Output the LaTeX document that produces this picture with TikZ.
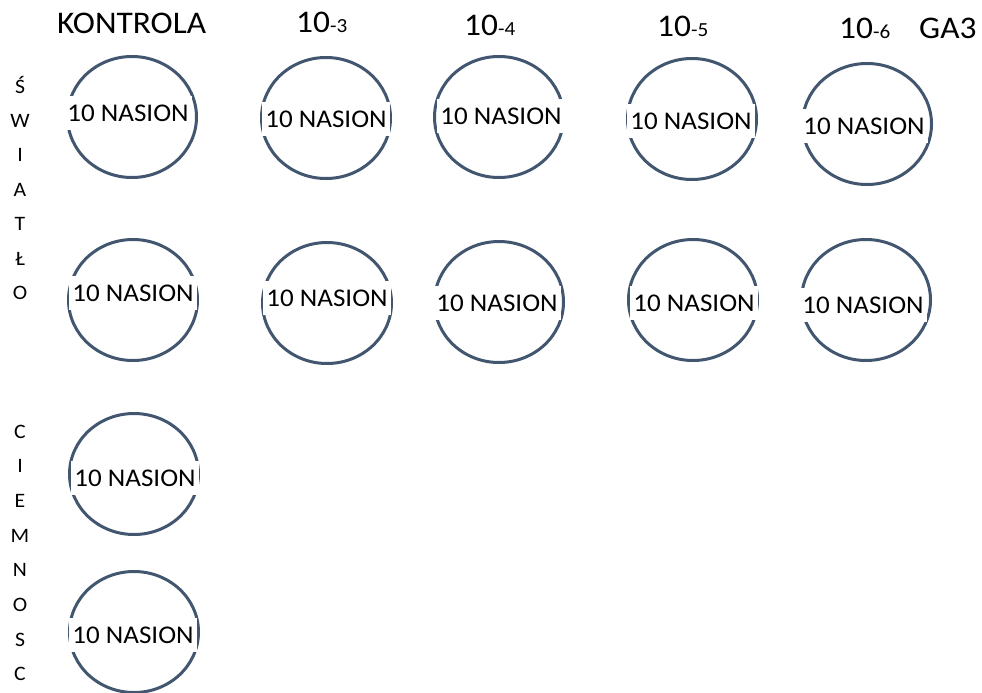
\documentclass[tikz,border=0pt]{standalone}
\usepackage{fontspec}
\setmainfont[FakeStretch=1.06]{Carlito}
\usetikzlibrary{shapes.geometric}
\definecolor{ringblue}{RGB}{66,86,112}
\tikzset{
  plate/.style={draw=ringblue, line width=3pt, ellipse, minimum width=129pt, minimum height=121pt, inner sep=0pt},
  seeds/.style={fill=white, inner xsep=3pt, inner ysep=9pt, font=\fontsize{25.5}{30}\selectfont},
  colhead/.style={anchor=base west, inner sep=0pt, font=\fontsize{31.5}{36}\selectfont},
  rowletter/.style={anchor=base, inner sep=0pt, font=\fontsize{20.5}{24}\selectfont},
}
\newcommand{\expo}[1]{{\fontsize{20}{22}\selectfont -#1}}

\begin{document}
\begin{tikzpicture}[x=1pt,y=-1pt]
    \useasboundingbox (0,0) rectangle (982,693);

    % nagłówki kolumn
    \node[colhead] (kontrola) at (57,34) {KONTROLA};
    \node[colhead] (e3) at (296,33) {10\expo{3}};
    \node[colhead] (e4) at (464,36) {10\expo{4}};
    \node[colhead] (e5) at (657,37) {10\expo{5}};
    \node[colhead] (e6) at (839,38) {10\expo{6}};
    \node[colhead] (ga) at (919,38) {GA3};

    % światło
    \foreach \ch [count=\k from 0] in {Ś,W,I,A,T,Ł,O}
        \node[rowletter] (sw\k) at (20,93+34.4*\k) {\ch};

    % ciemność
    \foreach \ch [count=\k from 0] in {C,I,E,M,N,O,S,C}
        \node[rowletter] (ci\k) at (20,438+34.7*\k) {\ch};

    % szalki z nasionami
    \foreach \name/\px/\py/\tx/\ty in {
        a1/132/117/128/113, a2/326/118/326/119, a3/499/117/501/116,
        a4/692/119/691/121, a5/867/124/864/126,
        b1/133/300/133/293, b2/327/303/327/298, b3/499/302/497/303,
        b4/693/300/694/303, b5/866/300/863/305,
        c1/134/474/135/478, d1/134/632/133/635}
    {
        \node[plate] (\name) at (\px,\py) {};
        \node[seeds] (\name-t) at (\tx,\ty) {10 NASION};
    }
\end{tikzpicture}
\end{document}
